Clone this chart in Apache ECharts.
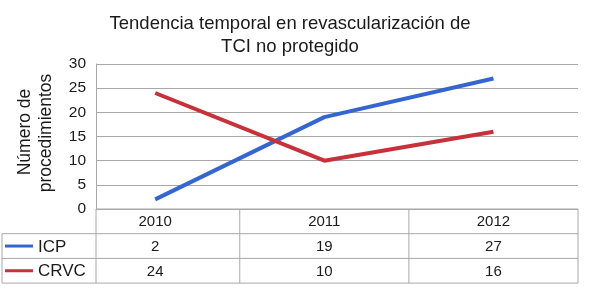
<!DOCTYPE html>
<html><head><meta charset="utf-8">
<script src="https://cdn.jsdelivr.net/npm/echarts@6/dist/echarts.min.js"></script>
<style>html,body{margin:0;padding:0;background:#fff}#c{width:602px;height:301px}</style>
</head><body><div id="c"></div>
<script>
var categories = ['2010', '2011', '2012'];
var icp = [2, 19, 27];
var crvc = [24, 10, 16];
var seriesNames = ['ICP', 'CRVC'];
var yTicks = [0, 5, 10, 15, 20, 25, 30];

var FONT = '"Liberation Sans", Arial, sans-serif';
var BLUE = '#3566cf';
var RED = '#c7313a';
var GRID = '#a8a8a8';
var TXT = '#1a1a1a';

var chart = echarts.init(document.getElementById('c'), null, {renderer: 'canvas'});

function pairs(arr) { return arr.map(function (v, i) { return [i, v]; }); }

var option = {
  animation: false,
  backgroundColor: '#fff',
  grid: {left: 96, right: 24, top: 64, bottom: 92, containLabel: false},
  xAxis: {
    type: 'value', min: -0.35, max: 2.5,
    axisLine: {show: false}, axisTick: {show: false}, axisLabel: {show: false}, splitLine: {show: false}
  },
  yAxis: {
    type: 'value', min: yTicks[0], max: yTicks[yTicks.length - 1], interval: 5,
    axisLine: {show: true, onZero: false, lineStyle: {color: GRID, width: 1}},
    axisTick: {show: false},
    axisLabel: {color: TXT, fontSize: 15.5, fontFamily: FONT, margin: 10},
    splitLine: {show: true, lineStyle: {color: GRID, width: 1}}
  },
  series: [
    {name: seriesNames[0], type: 'line', data: pairs(icp), symbol: 'none',
     lineStyle: {color: BLUE, width: 4}, itemStyle: {color: BLUE}},
    {name: seriesNames[1], type: 'line', data: pairs(crvc), symbol: 'none',
     lineStyle: {color: RED, width: 4}, itemStyle: {color: RED}}
  ]
};
chart.setOption(option);

function px(i, v) { return chart.convertToPixel({gridIndex: 0}, [i, v]); }

var left = px(-0.35, 0)[0], right = px(2.5, 0)[0];
var y0 = px(0, 0)[1];
var rowH = 24.7;
var yRow1 = y0 + rowH, yRow2 = y0 + 2 * rowH, yRow3 = y0 + 3 * rowH;
var legLeft = 2;
var g = [];
function line(x1, y1, x2, y2) {
  g.push({type: 'line', shape: {x1: x1, y1: y1, x2: x2, y2: y2}, style: {stroke: GRID, lineWidth: 1}, silent: true});
}
function text(x, y, s, opts) {
  opts = opts || {};
  g.push({type: 'text', x: x, y: y, rotation: opts.rot || 0, silent: true,
    style: {text: s, fill: TXT, font: (opts.size || 15) + 'px ' + FONT,
      textAlign: opts.align || 'center', textVerticalAlign: 'middle', verticalAlign: 'middle', align: opts.align || 'center'}});
}
// table horizontal lines
line(left, y0, right, y0);
line(legLeft, yRow1, right, yRow1);
line(legLeft, yRow2, right, yRow2);
line(legLeft, yRow3, right, yRow3);
// vertical lines
line(left, y0, left, yRow3);
line(legLeft, yRow1, legLeft, yRow3);
[0.5, 1.5].forEach(function (b) { var x = px(b, 0)[0]; line(x, y0, x, yRow3); });
line(right, y0, right, yRow3);
// header + values
categories.forEach(function (c, i) {
  var x = px(i, 0)[0];
  text(x, (y0 + yRow1) / 2 + 1, c, {size: 15});
  text(x, (yRow1 + yRow2) / 2 + 1, String(icp[i]), {size: 15});
  text(x, (yRow2 + yRow3) / 2 + 1, String(crvc[i]), {size: 15});
});
// legend keys
[[seriesNames[0], BLUE, (yRow1 + yRow2) / 2], [seriesNames[1], RED, (yRow2 + yRow3) / 2]].forEach(function (r) {
  g.push({type: 'line', shape: {x1: 5, y1: r[2], x2: 33, y2: r[2]}, style: {stroke: r[1], lineWidth: 3}, silent: true});
  text(38, r[2] + 1, r[0], {size: 17, align: 'left'});
});
// title
text(290, 24, 'Tendencia temporal en revascularización de', {size: 18.5});
text(290, 47, 'TCI no protegido', {size: 18.5});
// y-axis name
text(25, 132, 'Número de', {size: 17.5, rot: Math.PI / 2});
text(46, 133, 'procedimientos', {size: 17.5, rot: Math.PI / 2});

chart.setOption({graphic: {elements: g}});
</script></body></html>
